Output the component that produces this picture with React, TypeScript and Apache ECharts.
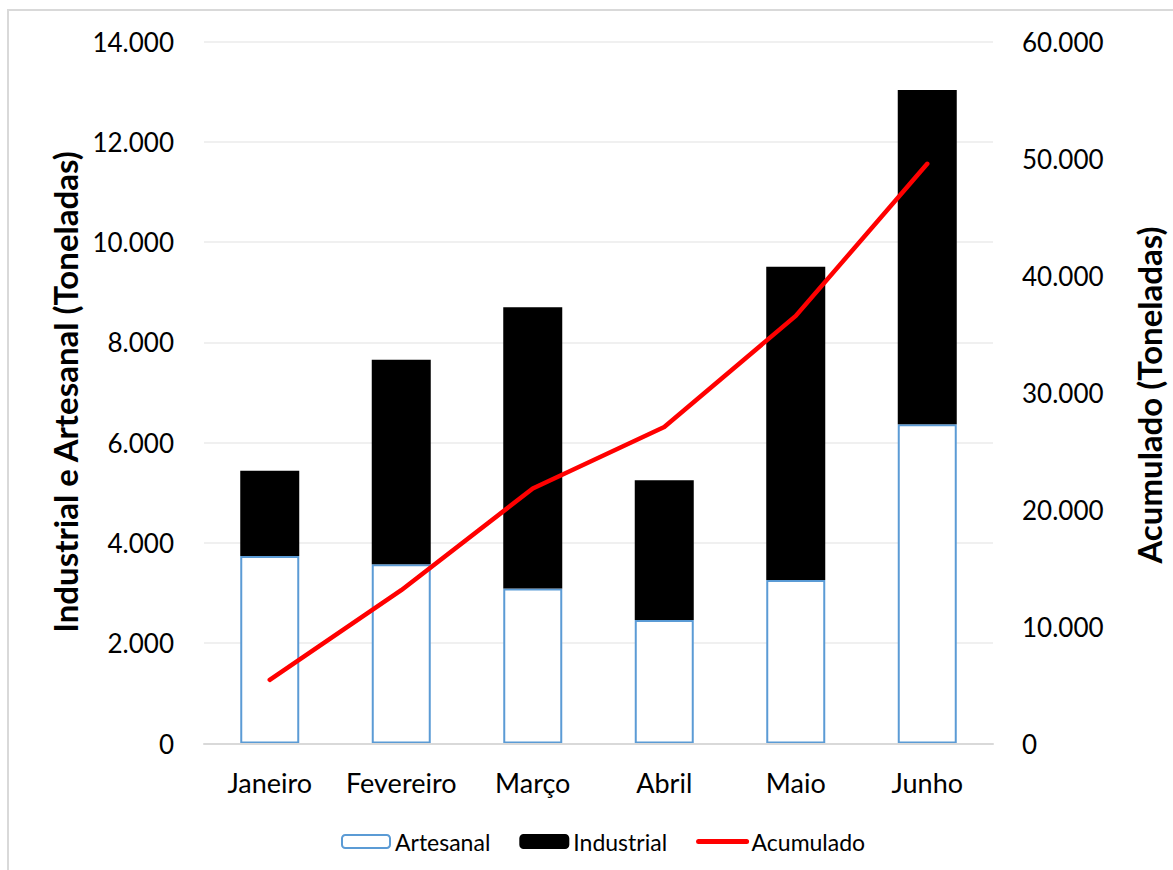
import React, { useEffect, useRef } from "react";
import * as echarts from "echarts";

// Monthly production (tonnes)
const months = ["Janeiro", "Fevereiro", "Março", "Abril", "Maio", "Junho"];
const artesanal = [3740, 3575, 3090, 2465, 3260, 6365];
const industrial = [1700, 4080, 5610, 2785, 6250, 6670];
const acumulado = [5440, 13100, 21800, 27050, 36550, 49550];

const leftTitle = "Industrial e Artesanal (Toneladas)";
const rightTitle = "Acumulado (Toneladas)";

const FONT = "Lato, 'Open Sans', sans-serif";

const fmt = (v: number) =>
  String(Math.round(v)).replace(/\B(?=(\d{3})+(?!\d))/g, ".");

export default function App() {
  const ref = useRef<HTMLDivElement>(null);

  useEffect(() => {
    if (!ref.current) return;
    const chart = echarts.init(ref.current, null, { renderer: "svg" });
    chart.setOption({
      animation: false,
      backgroundColor: "#ffffff",
      textStyle: { fontFamily: FONT, color: "#000" },
      grid: { left: 204, right: 180, top: 41.5, bottom: 126.5 },
      legend: {
        left: 336,
        top: 825,
        itemWidth: 48,
        itemHeight: 13,
        itemGap: 29,
        textStyle: { fontFamily: FONT, fontSize: 23, color: "#000" },
        data: [
          "Artesanal",
          "Industrial",
          {
            name: "Acumulado",
            itemStyle: { opacity: 0 },
            lineStyle: { color: "#ff0000", width: 5 },
          },
        ],
      },
      graphic: [
        {
          type: "rect",
          shape: { x: 8, y: 10, width: 1300, height: 1000 },
          style: { fill: "none", stroke: "#d9d9d9", lineWidth: 2 },
          silent: true,
        },
        {
          type: "text",
          x: 65,
          y: 392,
          rotation: Math.PI / 2,
          style: {
            text: leftTitle,
            fontFamily: FONT,
            fontSize: 33,
            fontWeight: "bold",
            fill: "#000",
            textAlign: "center",
            textVerticalAlign: "middle",
          },
        },
        {
          type: "text",
          x: 1149,
          y: 395,
          rotation: Math.PI / 2,
          style: {
            text: rightTitle,
            fontFamily: FONT,
            fontSize: 33,
            fontWeight: "bold",
            fill: "#000",
            textAlign: "center",
            textVerticalAlign: "middle",
          },
        },
      ],
      xAxis: {
        type: "category",
        data: months,
        z: 5,
        axisLine: { lineStyle: { color: "#d9d9d9", width: 2 } },
        axisTick: { show: false },
        axisLabel: {
          fontFamily: FONT,
          fontSize: 27,
          color: "#000",
          margin: 25,
          interval: 0,
          hideOverlap: false,
        },
      },
      yAxis: [
        {
          type: "value",
          min: 0,
          max: 14000,
          interval: 2000,
          axisLine: { show: false },
          axisTick: { show: false },
          splitLine: { lineStyle: { color: "#ebebeb", width: 1.5 } },
          axisLabel: {
            fontFamily: FONT,
            fontSize: 26,
            color: "#000",
            margin: 30,
            formatter: fmt,
          },
        },
        {
          type: "value",
          min: 0,
          max: 60000,
          interval: 10000,
          position: "right",
          axisLine: { show: false },
          axisTick: { show: false },
          splitLine: { show: false },
          axisLabel: {
            fontFamily: FONT,
            fontSize: 26,
            color: "#000",
            margin: 29,
            formatter: fmt,
          },
        },
      ],
      series: [
        {
          name: "Artesanal",
          type: "bar",
          stack: "total",
          barWidth: 59,
          data: artesanal,
          itemStyle: { color: "#ffffff", borderColor: "#5b9bd5", borderWidth: 2 },
        },
        {
          name: "Industrial",
          type: "bar",
          stack: "total",
          barWidth: 59,
          data: industrial,
          itemStyle: { color: "#000000", borderColor: "#000000", borderWidth: 2 },
        },
        {
          name: "Acumulado",
          type: "line",
          yAxisIndex: 1,
          data: acumulado,
          symbol: "none",
          z: 6,
          lineStyle: { color: "#ff0000", width: 4.5, cap: "round", join: "round" },
          itemStyle: { color: "#ff0000" },
        },
      ],
    });
    return () => chart.dispose();
  }, []);

  return (
    <div
      ref={ref}
      style={{
        position: "fixed",
        left: 0,
        top: 0,
        width: 1173,
        height: 870,
        background: "#fff",
      }}
    />
  );
}
